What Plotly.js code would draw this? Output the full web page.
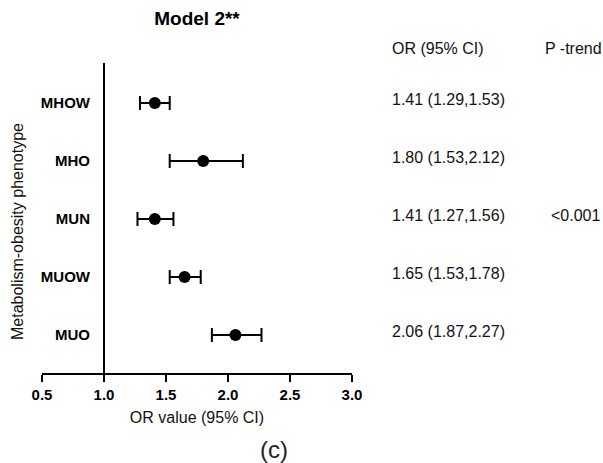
<!DOCTYPE html>
<html>
<head>
<meta charset="utf-8">
<script src="https://cdn.plot.ly/plotly-3.0.1.min.js"></script>
<style>html,body{margin:0;padding:0;background:#fff;}#chart{width:603px;height:463px;}</style>
</head>
<body>
<div id="chart"></div>
<script>
const categories = ["MHOW", "MHO", "MUN", "MUOW", "MUO"];
const orValues = [1.41, 1.80, 1.41, 1.65, 2.06];
const ciLower = [1.29, 1.53, 1.27, 1.53, 1.87];
const ciUpper = [1.53, 2.12, 1.56, 1.78, 2.27];
const orLabels = ["1.41 (1.29,1.53)", "1.80 (1.53,2.12)", "1.41 (1.27,1.56)", "1.65 (1.53,1.78)", "2.06 (1.87,2.27)"];
const pTrendLabel = "<0.001";
const pTrendRow = "MUN";
const xTicks = [0.5, 1.0, 1.5, 2.0, 2.5, 3.0];

const FONT = "Liberation Sans, Arial, Helvetica, sans-serif";

const trace = {
  type: "scatter",
  mode: "markers",
  x: orValues,
  y: categories,
  marker: {color: "#000", size: 12},
  error_x: {
    type: "data",
    symmetric: false,
    array: orValues.map((v, i) => ciUpper[i] - v),
    arrayminus: orValues.map((v, i) => v - ciLower[i]),
    color: "#000",
    thickness: 2,
    width: 7
  },
  cliponaxis: false,
  hoverinfo: "skip"
};

const annotations = [];
annotations.push({xref: "paper", yref: "paper", x: 1.1226, y: 1.048, xanchor: "left", yanchor: "middle",
  text: "OR (95% CI)", showarrow: false, font: {family: FONT, size: 16, color: "#111"}});
annotations.push({xref: "paper", yref: "paper", x: 1.617, y: 1.048, xanchor: "left", yanchor: "middle",
  text: "P -trend", showarrow: false, font: {family: FONT, size: 16, color: "#111"}});
categories.forEach((c, i) => {
  annotations.push({xref: "paper", yref: "y", x: 1.1226, y: c, yshift: 4, xanchor: "left", yanchor: "middle",
    text: orLabels[i], showarrow: false, font: {family: FONT, size: 16, color: "#111"}});
});
annotations.push({xref: "paper", yref: "y", x: 1.636, y: pTrendRow, yshift: 4, xanchor: "left", yanchor: "middle",
  text: pTrendLabel.replace("<", "&lt;"), showarrow: false, font: {family: FONT, size: 16, color: "#111"}});
annotations.push({xref: "paper", yref: "paper", x: -0.0806, y: 0.4548, xanchor: "center", yanchor: "middle",
  textangle: -90, text: "Metabolism-obesity phenotype", showarrow: false, font: {family: FONT, size: 16, color: "#111"}});
annotations.push({xref: "paper", yref: "paper", x: 0.747, y: -0.246, xanchor: "center", yanchor: "middle",
  text: "(c)", showarrow: false, font: {family: FONT, size: 24, color: "#222"}});

const layout = {
  width: 603,
  height: 463,
  margin: {l: 42, r: 251, t: 63, b: 90, pad: 0},
  paper_bgcolor: "#fff",
  plot_bgcolor: "#fff",
  showlegend: false,
  font: {family: FONT, color: "#000"},
  title: {
    text: "Model 2**",
    font: {family: FONT, size: 19, weight: "bold", color: "#000"},
    x: 0.5, xref: "paper", xanchor: "center",
    y: 0.961, yref: "container", yanchor: "middle"
  },
  xaxis: {
    range: [0.5, 3.0],
    tickvals: xTicks,
    ticktext: xTicks.map(v => v.toFixed(1)),
    showgrid: false,
    zeroline: false,
    showline: true,
    linewidth: 2,
    linecolor: "#000",
    ticks: "outside",
    ticklen: 7,
    tickwidth: 2,
    tickcolor: "#000",
    tickfont: {family: FONT, size: 15, weight: "bold", color: "#000"},
    title: {text: "OR value (95% CI)", font: {family: FONT, size: 16, color: "#111"}, standoff: 10},
    fixedrange: true
  },
  yaxis: {
    type: "category",
    categoryorder: "array",
    categoryarray: categories,
    range: [4.655, -0.69],
    anchor: "free",
    position: 0.2,
    showgrid: false,
    zeroline: false,
    showline: true,
    linewidth: 2,
    linecolor: "#000",
    ticks: "",
    ticklabelstandoff: 10,
    tickfont: {family: FONT, size: 15, weight: "bold", color: "#000"},
    fixedrange: true
  },
  annotations: annotations
};

Plotly.newPlot("chart", [trace], layout, {displayModeBar: false, staticPlot: true});
</script>
</body>
</html>
